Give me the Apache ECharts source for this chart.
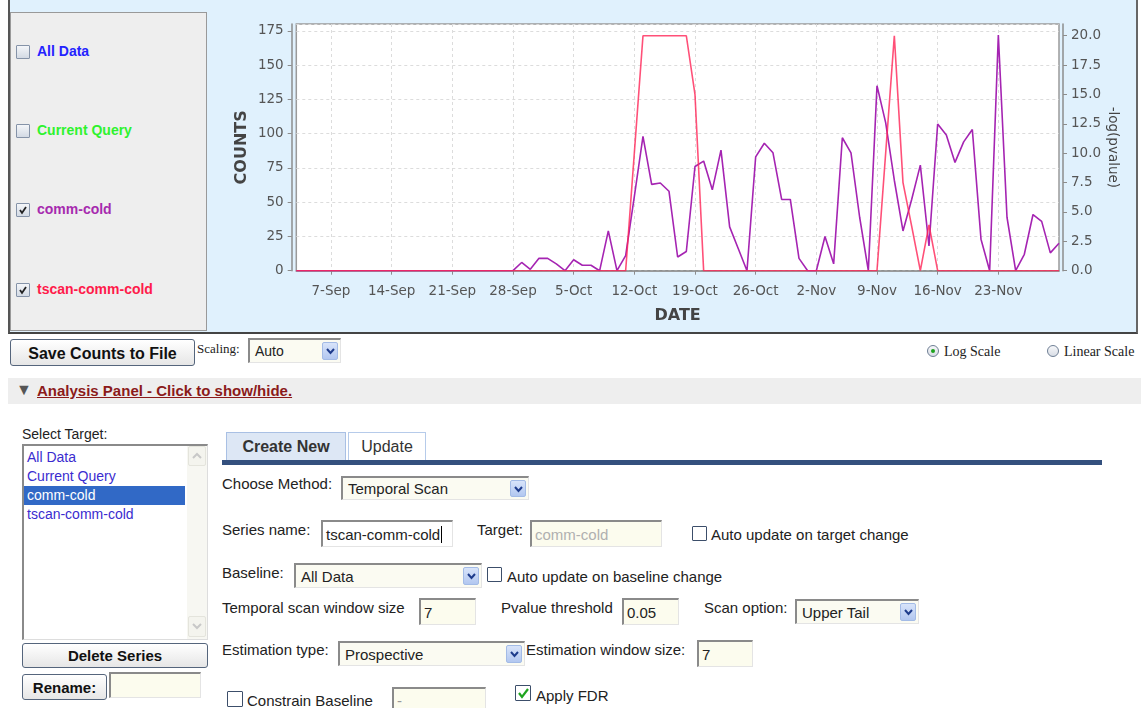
<!DOCTYPE html>
<html><head><meta charset="utf-8">
<script src="https://cdn.jsdelivr.net/npm/echarts@6/dist/echarts.min.js"></script>
<style>
body{margin:0;width:1141px;height:708px;position:relative;background:#fff;font-family:'Liberation Sans',Arial,sans-serif;overflow:hidden;color:#222}
.a{position:absolute;white-space:nowrap}
#panel{left:8px;top:0;width:1126px;height:332px;background:#e0f1fd;border-left:2px solid #555;border-bottom:2px solid #444;border-right:2px solid #666}
#legend{left:10px;top:12px;width:195px;height:317px;background:#eeeeee;border:1px solid #999}
.cb{position:absolute;width:14px;height:14px;box-sizing:border-box;border:1px solid #8593a8;background:linear-gradient(#f4f6f9,#d3dae4);border-radius:1px}
.cb svg{position:absolute;left:1px;top:1px}
.lg{font-weight:bold;font-size:14px}
.btn{position:absolute;box-sizing:border-box;border:1px solid #55657c;border-radius:3px;background:linear-gradient(#ffffff,#e6e6e6);font-weight:bold;font-size:16px;text-align:center;color:#111}
.serif{font-family:'Liberation Serif','Times New Roman',serif;font-size:14px;color:#222}
.inp{position:absolute;box-sizing:border-box;background:#fcfcee;border-top:2px solid #8a8a8a;border-left:2px solid #8a8a8a;border-right:1px solid #e4e4e4;border-bottom:1px solid #e4e4e4;font-size:15px;padding-left:3px;white-space:nowrap;overflow:hidden}
.sel{position:absolute;box-sizing:border-box;background:#fbfbf2;border-top:2px solid #8a8a8a;border-left:2px solid #8a8a8a;border-right:1px solid #e4e4e4;border-bottom:1px solid #e4e4e4;font-size:15px;padding-left:5px;white-space:nowrap}
.arr{position:absolute;right:2px;top:2px;bottom:2px;width:16px;background:linear-gradient(#d8e4fa,#b2c7f0);border:1px solid #a3bbe6;border-radius:2px;box-sizing:border-box}
.arr svg{position:absolute;left:3px;top:50%;margin-top:-4px}
.lab{font-size:15px;color:#222}
.rad{position:absolute;width:12px;height:12px;box-sizing:border-box;border:1px solid #6f7f95;border-radius:50%;background:linear-gradient(#f6f7f9,#d9dee6)}
</style></head><body>
<div id="panel" class="a"></div>
<div id="legend" class="a"></div>
<div class="cb" style="left:16px;top:45px"></div>
<div class="a lg" style="left:37px;top:43px;color:#2323ff">All Data</div>
<div class="cb" style="left:16px;top:124px"></div>
<div class="a lg" style="left:37px;top:122px;color:#2ef22e">Current Query</div>
<div class="cb" style="left:16px;top:203px"><svg width="10" height="10"><path d="M2 5 L4 8 L8 2" stroke="#222" stroke-width="1.8" fill="none"/></svg></div>
<div class="a lg" style="left:37px;top:201px;color:#a62aae">comm-cold</div>
<div class="cb" style="left:16px;top:283px"><svg width="10" height="10"><path d="M2 5 L4 8 L8 2" stroke="#222" stroke-width="1.8" fill="none"/></svg></div>
<div class="a lg" style="left:37px;top:281px;color:#ff1a4a">tscan-comm-cold</div>
<div id="chart" class="a" style="left:208px;top:5px;width:928px;height:327px"></div>

<div class="btn" style="left:10px;top:339px;width:185px;height:27px;line-height:27px">Save Counts to File</div>
<div class="a serif" style="left:197px;top:341px;font-size:13px">Scaling:</div>
<div class="sel" style="left:248px;top:338px;width:93px;height:25px;line-height:22px;font-size:14px">Auto<div class="arr"><svg width="9" height="8"><path d="M1 2 L4.5 6 L8 2" stroke="#1e3c8c" stroke-width="2" fill="none"/></svg></div></div>
<div class="rad" style="left:927px;top:345px"><div style="position:absolute;left:3px;top:3px;width:4px;height:4px;border-radius:50%;background:#1ea21e"></div></div>
<div class="a serif" style="left:944px;top:344px">Log Scale</div>
<div class="rad" style="left:1047px;top:345px"></div>
<div class="a serif" style="left:1064px;top:344px">Linear Scale</div>

<div class="a" style="left:8px;top:378px;width:1133px;height:26px;background:#eeeeee"></div>
<div class="a" style="left:16px;top:381px;font-size:16px;color:#555">&#9660;</div>
<div class="a" style="left:37px;top:382px;font-size:15px;font-weight:bold;color:#8b1a1a;text-decoration:underline">Analysis Panel - Click to show/hide.</div>

<div class="a" style="left:22px;top:426px;font-size:14px;color:#222">Select Target:</div>
<div class="a" style="left:22px;top:444px;width:186px;height:196px;box-sizing:border-box;border-top:2px solid #8a8a8a;border-left:2px solid #8a8a8a;border-right:1px solid #ddd;border-bottom:1px solid #ddd;background:#fff"></div>
<div class="a" style="left:187px;top:446px;width:20px;height:193px;background:#f7f7f2"></div>
<div class="a" style="left:188px;top:446px;width:18px;height:20px;box-sizing:border-box;border:1px solid #e4e4dc;border-radius:2px;background:#f4f4ee"><svg width="16" height="18"><path d="M4 11 L8 7 L12 11" stroke="#c8c8c8" stroke-width="2" fill="none"/></svg></div>
<div class="a" style="left:188px;top:616px;width:18px;height:21px;box-sizing:border-box;border:1px solid #e4e4dc;border-radius:2px;background:#f4f4ee"><svg width="16" height="18"><path d="M4 7 L8 11 L12 7" stroke="#c8c8c8" stroke-width="2" fill="none"/></svg></div>
<div class="a" style="left:27px;top:449px;font-size:14px;color:#3a2ccf">All Data</div>
<div class="a" style="left:27px;top:468px;font-size:14px;color:#3a2ccf">Current Query</div>
<div class="a" style="left:24px;top:486px;width:161px;height:19px;background:#3169c6"></div>
<div class="a" style="left:27px;top:487px;font-size:14px;color:#fff">comm-cold</div>
<div class="a" style="left:27px;top:506px;font-size:14px;color:#3a2ccf">tscan-comm-cold</div>
<div class="btn" style="left:22px;top:643px;width:186px;height:25px;line-height:24px;font-size:15px">Delete Series</div>
<div class="btn" style="left:22px;top:674px;width:85px;height:26px;line-height:25px;font-size:15px">Rename:</div>
<div class="inp" style="left:109px;top:672px;width:92px;height:26px"></div>

<div class="a" style="left:226px;top:432px;width:120px;height:29px;box-sizing:border-box;background:#dde7f5;border:1px solid #a9c0e4;border-bottom:none;font-size:16px;font-weight:bold;color:#333;text-align:center;line-height:28px">Create New</div>
<div class="a" style="left:348px;top:432px;width:78px;height:29px;box-sizing:border-box;background:#fff;border:1px solid #b6cbea;border-bottom:none;font-size:16px;color:#333;text-align:center;line-height:28px">Update</div>
<div class="a" style="left:222px;top:460px;width:880px;height:5px;background:#34507e"></div>

<div class="a lab" style="left:222px;top:475px">Choose Method:</div>
<div class="sel" style="left:341px;top:476px;width:188px;height:24px;line-height:22px">Temporal Scan<div class="arr"><svg width="9" height="8"><path d="M1 2 L4.5 6 L8 2" stroke="#1e3c8c" stroke-width="2" fill="none"/></svg></div></div>

<div class="a lab" style="left:222px;top:521px">Series name:</div>
<div class="inp" style="left:321px;top:520px;width:132px;height:27px;line-height:25px;background:#fff">tscan-comm-cold<span style="border-left:1px solid #000;margin-left:1px"></span></div>
<div class="a lab" style="left:477px;top:521px">Target:</div>
<div class="inp" style="left:530px;top:520px;width:132px;height:27px;line-height:25px;color:#b0b0b0">comm-cold</div>
<div class="cb" style="left:692px;top:526px;width:15px;height:15px;border:1px solid #3c4e6a;background:#fff"></div>
<div class="a lab" style="left:711px;top:526px">Auto update on target change</div>

<div class="a lab" style="left:222px;top:564px">Baseline:</div>
<div class="sel" style="left:294px;top:563px;width:188px;height:25px;line-height:23px">All Data<div class="arr"><svg width="9" height="8"><path d="M1 2 L4.5 6 L8 2" stroke="#1e3c8c" stroke-width="2" fill="none"/></svg></div></div>
<div class="cb" style="left:487px;top:567px;width:15px;height:15px;border:1px solid #3c4e6a;background:#fff"></div>
<div class="a lab" style="left:507px;top:568px">Auto update on baseline change</div>

<div class="a lab" style="left:222px;top:599px">Temporal scan window size</div>
<div class="inp" style="left:419px;top:598px;width:57px;height:27px;line-height:26px">7</div>
<div class="a lab" style="left:501px;top:599px">Pvalue threshold</div>
<div class="inp" style="left:622px;top:598px;width:57px;height:27px;line-height:26px">0.05</div>
<div class="a lab" style="left:704px;top:599px">Scan option:</div>
<div class="sel" style="left:795px;top:599px;width:124px;height:25px;line-height:24px">Upper Tail<div class="arr"><svg width="9" height="8"><path d="M1 2 L4.5 6 L8 2" stroke="#1e3c8c" stroke-width="2" fill="none"/></svg></div></div>

<div class="a lab" style="left:222px;top:641px">Estimation type:</div>
<div class="sel" style="left:338px;top:641px;width:187px;height:25px;line-height:24px">Prospective<div class="arr"><svg width="9" height="8"><path d="M1 2 L4.5 6 L8 2" stroke="#1e3c8c" stroke-width="2" fill="none"/></svg></div></div>
<div class="a lab" style="left:526px;top:641px">Estimation window size:</div>
<div class="inp" style="left:697px;top:640px;width:56px;height:27px;line-height:26px">7</div>

<div class="cb" style="left:227px;top:691px;width:16px;height:16px;border:1px solid #3c4e6a;background:#fff"></div>
<div class="a lab" style="left:247px;top:692px">Constrain Baseline</div>
<div class="inp" style="left:392px;top:687px;width:94px;height:26px;line-height:24px;color:#999">-</div>
<div class="cb" style="left:515px;top:685px;width:16px;height:16px;border:1px solid #3c4e6a;background:#fff"><svg width="12" height="12" style="left:1px;top:1px"><path d="M2 6 L5 10 L11 2" stroke="#1fa51f" stroke-width="2.2" fill="none"/></svg></div>
<div class="a lab" style="left:536px;top:687px">Apply FDR</div>

<script>
// Daily dates from 3-Sep to 30-Nov
const START_DATE = [2008, 8, 3];   // year, month index, day
const DAY_COUNT = 89;
const MONTHS = ['Jan','Feb','Mar','Apr','May','Jun','Jul','Aug','Sep','Oct','Nov','Dec'];
const tickLabels = ['7-Sep','14-Sep','21-Sep','28-Sep','5-Oct','12-Oct','19-Oct','26-Oct','2-Nov','9-Nov','16-Nov','23-Nov'];

// comm-cold counts (left axis)
const commCold = [
  0,0,0,0,0,0,0,0,0,0,
  0,0,0,0,0,0,0,0,0,0,
  0,0,0,0,0,0,6,1,9,9,
  5,0,8,4,4,0,29,0,11,54,
  98,63,64,58,10,14,76,80,59,88,
  32,16,0,83,93,86,52,52,9,0,
  0,25,5,97,86,39,0,135,108,66,
  29,52,77,18,107,99,79,94,103,23,
  0,172,39,0,12,41,36,13,20
];
// tscan-comm-cold -log(pvalue) (right axis)
const tscanCommCold = [
  0,0,0,0,0,0,0,0,0,0,
  0,0,0,0,0,0,0,0,0,0,
  0,0,0,0,0,0,0,0,0,0,
  0,0,0,0,0,0,0,0,0,10,
  20,20,20,20,20,20,15,0,0,0,
  0,0,0,0,0,0,0,0,0,0,
  0,0,0,0,0,0,0,0,10,20,
  7.5,3.8,0,3.9,0,0,0,0,0,0,
  0,0,0,0,0,0,0,0,0
];

const categories = [];
for (let i = 0; i < DAY_COUNT; i++) {
  const d = new Date(START_DATE[0], START_DATE[1], START_DATE[2] + i);
  categories.push(d.getDate() + '-' + MONTHS[d.getMonth()]);
}
const isTick = (idx) => tickLabels.indexOf(categories[idx]) >= 0;

const FONT = 'DejaVu Sans';
const chart = echarts.init(document.getElementById('chart'), null, {renderer: 'canvas'});
chart.setOption({
  backgroundColor: 'transparent',
  animation: false,
  grid: {left: 88.3, top: 19, width: 762.7, height: 246.7, show: true,
         backgroundColor: '#ffffff', borderColor: '#9a9a9a', borderWidth: 1.5},
  xAxis: {
    type: 'category', data: categories, boundaryGap: false, offset: 5,
    name: 'DATE', nameLocation: 'middle', nameGap: 32, nameMoveOverlap: false,
    nameTextStyle: {fontFamily: FONT, fontWeight: 'bold', fontSize: 16, color: '#444'},
    axisLine: {lineStyle: {color: '#8c8c8c', width: 1.5}},
    axisTick: {interval: (i) => isTick(i), length: 4, lineStyle: {color: '#8c8c8c'}},
    axisLabel: {interval: (i) => isTick(i), margin: 9, fontFamily: FONT, fontSize: 13.5, color: '#555'},
    splitLine: {show: true, interval: (i) => isTick(i), lineStyle: {color: '#dcdcdc', type: [3, 3], width: 1}}
  },
  yAxis: [{
    type: 'value', min: 0, max: 180, interval: 25, offset: 4.6, position: 'left',
    name: 'COUNTS', nameLocation: 'middle', nameGap: 42, nameRotate: 90, nameMoveOverlap: false,
    nameTextStyle: {fontFamily: FONT, fontWeight: 'bold', fontSize: 16, color: '#444'},
    axisLine: {show: true, lineStyle: {color: '#8c8c8c', width: 1.5}},
    axisTick: {show: true, length: 4, lineStyle: {color: '#8c8c8c'}},
    axisLabel: {margin: 8, showMaxLabel: false, fontFamily: FONT, fontSize: 13.5, color: '#555'},
    splitLine: {show: true, lineStyle: {color: '#dcdcdc', type: [3, 3], width: 1}}
  }, {
    type: 'value', min: 0, max: 21, interval: 2.5, offset: 4, position: 'right',
    name: '-log(pvalue)', nameLocation: 'middle', nameGap: 42, nameRotate: -90, nameMoveOverlap: false,
    nameTextStyle: {fontFamily: FONT, fontSize: 13.5, color: '#444'},
    axisLine: {show: true, lineStyle: {color: '#8c8c8c', width: 1.5}},
    axisTick: {show: true, length: 4, lineStyle: {color: '#8c8c8c'}},
    axisLabel: {margin: 8, showMaxLabel: false, fontFamily: FONT, fontSize: 13.5, color: '#555',
                formatter: (v) => v.toFixed(1)},
    splitLine: {show: false}
  }],
  series: [{
    name: 'comm-cold', type: 'line', yAxisIndex: 0, data: commCold,
    showSymbol: false, symbol: 'none', lineStyle: {color: '#a524b2', width: 1.6}
  }, {
    name: 'tscan-comm-cold', type: 'line', yAxisIndex: 1, data: tscanCommCold,
    showSymbol: false, symbol: 'none', lineStyle: {color: '#ff2456', width: 1.6, opacity: 0.8}
  }]
});
</script>
</body></html>
